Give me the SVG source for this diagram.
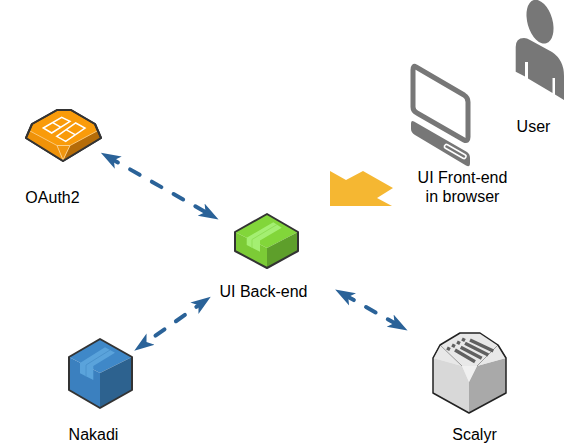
<svg xmlns="http://www.w3.org/2000/svg" width="586" height="444" viewBox="0 0 586 444">
<style>
.t{font-family:"Liberation Sans",Arial,sans-serif;font-size:16px;fill:#000;text-anchor:middle}
.o{stroke:#333;stroke-width:2;stroke-linejoin:round}
.c{fill:none;stroke:#2a6298;stroke-width:4;stroke-linecap:round;marker-start:url(#a);marker-end:url(#a)}
.g{fill:#777}
</style>
<defs>
<marker id="a" markerUnits="userSpaceOnUse" markerWidth="24" markerHeight="18" viewBox="0 -9 24 18" refX="5" refY="0" orient="auto-start-reverse">
<path d="M20,0 L0,-7 L5,0 L0,7 Z" fill="#2a6298"/>
</marker>
</defs>
<g id="connectors">
<path class="c" d="M113.900,160.200 L205.500,212.100" stroke-dasharray="11 14" stroke-dashoffset="6.400"/>
<path class="c" d="M146.500,342 L198.500,305.300" stroke-dasharray="11 14" stroke-dashoffset="14"/>
<path class="c" d="M348.200,296.900 L394.500,323.100" stroke-dasharray="11 14" stroke-dashoffset="4.500"/>
</g>
<g id="oauth2">
<path d="M57,110 H71 L95,124 L101,138 L63,161 L26,138 L32,124 Z" fill="#f99b0a" class="o"/>
<path d="M27,138 L30,131 L58,146 L63,161 Z" fill="#ef9209"/>
<path d="M100,138 L97,131 L69,146 L63,161 Z" fill="#b56c08"/>
<path d="M57,145.500 H70 L63,160 Z" fill="#f0950e" stroke="#fbd08a"/>
<path d="M30,131 L57,145.500 M97,131 L70,145.500" stroke="#fbc878" fill="none"/>
<path d="M57,110 H71 L95,124 L101,138 L63,161 L26,138 L32,124 Z" fill="none" class="o"/>
<path d="M43.300,128 L61.700,117.300 L70,121.300 L51.700,133 Z M52.300,122.300 L61,127.300 M56.700,136.300 L75.700,123 L85,128 L65.700,141.300 Z M66,129.700 L75,134.700" fill="none" stroke="#fff" stroke-width="1.500"/>
<text class="t" x="52.500" y="203">OAuth2</text>
</g>
<g id="ui-back-end">
<path d="M267,214 L298,232 L267,248 L235,232 Z" fill="#82d63a"/>
<path d="M235,232 L267,248 V268 L235,251 Z" fill="#7ccb36"/>
<path d="M298,232 V251 L267,268 V248 Z" fill="#5e9f2b"/>
<path d="M273.300,222.300 L281.700,227.700 L260,240.500 V251.700 L246.700,245 V237.700 Z" fill="#a4ef72"/>
<path d="M277,224.500 L252,239.500 V248" fill="none" stroke="#8fe056"/>
<path d="M267,214 L298,232 V251 L267,268 L235,251 V232 Z" fill="none" class="o"/>
<text class="t" x="263.500" y="297">UI Back-end</text>
</g>
<g id="nakadi">
<path d="M100,339 L132,357 L100,373 L69,357 Z" fill="#3f88c8"/>
<path d="M69,357 L100,373 V408 L69,390 Z" fill="#3b80bf"/>
<path d="M132,357 V390 L100,408 V373 Z" fill="#2d628f"/>
<path d="M105,347.300 L115,352.700 L93.300,366 V380 L80,373.300 V363 Z" fill="#5aa3db"/>
<path d="M110,350 L86,365 V376.500" fill="none" stroke="#4a92cc"/>
<path d="M100,339 L132,357 V390 L100,408 L69,390 V357 Z" fill="none" class="o"/>
<text class="t" x="93.500" y="440">Nakadi</text>
</g>
<g id="scalyr">
<path d="M460,333 H480 L498,345 L506,358 V393 L469,413 L433,393 V358 L440,345 Z" fill="#e8e8e8"/>
<path d="M433,358 L462,366 L469,382 V413 L433,393 Z" fill="#d8d8d8"/>
<path d="M506,358 L477,366 L469,382 V413 L506,393 Z" fill="#a9a9a9"/>
<path d="M462,366 H477 L469,382 Z" fill="#f0f0f0"/>
<path d="M433,358 L440,345 L462,366 M506,358 L498,345 L477,366" fill="#e8e8e8" stroke="#888" stroke-width="0.800"/>
<path d="M460,333 H480 L498,345 L506,358 V393 L469,413 L433,393 V358 L440,345 Z" fill="none" stroke="#222" stroke-width="1.500" stroke-linejoin="round"/>
<path d="M470,340 L493.300,351 M465,343.300 L488.300,355 M460.700,347.300 L481.700,358.300 M455,350 L475,361.700 M462,339 L465,340.500 M457,342 L460,343.500 M452,345 L455,346.500 M447,348 L450,349.500" fill="none" stroke="#606060" stroke-width="3.500"/>
<text class="t" x="474.500" y="440">Scalyr</text>
</g>
<g id="ui-front-end">
<path d="M416,67 L464,95 Q468,97.500 468,102 V137 Q468,142 464,140 L417,113 Q413,111 413,107 V70 Q413,65 416,67 Z" fill="none" stroke="#777" stroke-width="5" stroke-linejoin="round"/>
<path d="M414,121.500 L467,152 Q470,154 470,158 V163 Q470,168 466,165.500 L415,135 Q411,132.500 411,129 V124 Q411,119.500 414,121.500 Z" class="g"/>
<path d="M446.500,146.500 L464,156.500" stroke="#fff" stroke-width="5.500" stroke-linecap="round"/>
<path d="M446.500,146.500 L464,156.500" stroke="#777" stroke-width="2.500" stroke-linecap="round"/>
<text class="t" x="462.500" y="183">UI Front-end</text>
<text class="t" x="462.500" y="202">in browser</text>
</g>
<g id="user">
<ellipse class="g" cx="540" cy="21.700" rx="12.500" ry="22.500" transform="rotate(-16 540 21.700)"/>
<path class="g" d="M515.700,71.700 V47 Q515.700,38 524,38 Q527,38 530,40 L552,52 Q564,60 564,76 V100 L555,94.500 V78 H552.500 V93 L528,78.500 V62 H525 V76.500 Z"/>
<text class="t" x="533.500" y="132">User</text>
</g>
<g id="flow-arrow">
<path d="M330,171 L346,180 L363,171 L393,188 L377,198 L392,206 H330 Z" fill="#f5b732"/>
</g>
</svg>
